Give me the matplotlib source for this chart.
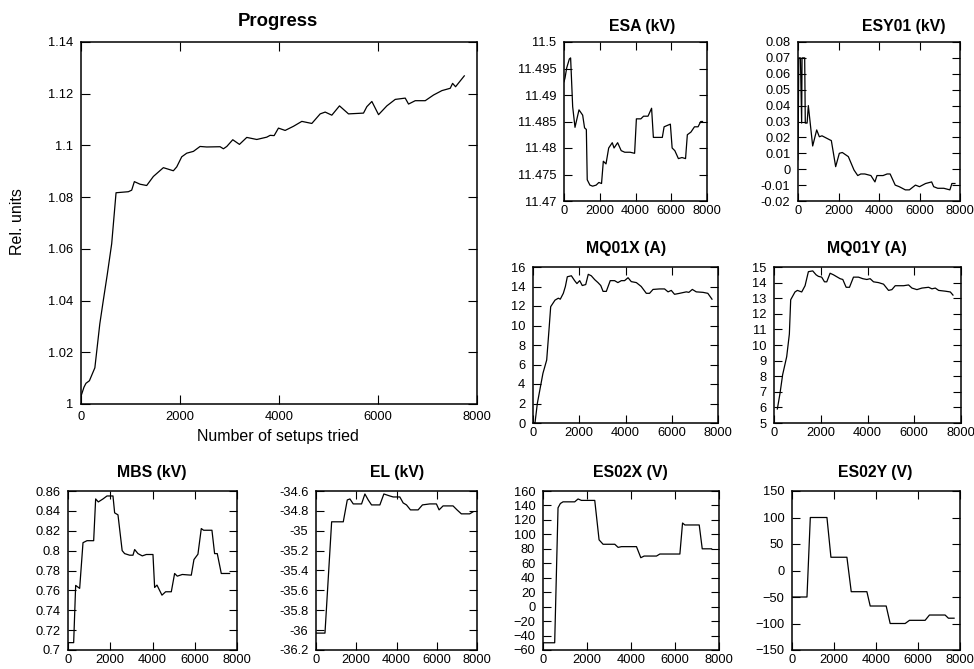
import matplotlib
matplotlib.use("Agg")
import matplotlib.pyplot as plt

plt.rcParams['font.family'] = ['Liberation Sans', 'DejaVu Sans']

# ---------------- data ----------------
prog_x = [0, 60, 100, 170, 280, 380, 450, 530, 620, 708, 957, 1024, 1078, 1193, 1327, 1462, 1664, 1866,
          1934, 2035, 2136, 2271, 2405, 2540, 2810, 2877, 2945, 3066, 3201, 3349, 3551, 3753, 3821, 3902,
          3989, 4124, 4292, 4461, 4663, 4832, 4933, 5067, 5222, 5404, 5707, 5775, 5876, 6011, 6179, 6348,
          6550, 6617, 6752, 6954, 7122, 7291, 7459, 7507, 7567, 7743]
prog_y = [1.003, 1.0065, 1.008, 1.009, 1.014, 1.031, 1.040, 1.050, 1.062, 1.0817, 1.0821, 1.0827, 1.086,
          1.085, 1.0845, 1.088, 1.0914, 1.0902, 1.0917, 1.0956, 1.097, 1.0977, 1.0996, 1.0994, 1.0995,
          1.0987, 1.0996, 1.1022, 1.1004, 1.1031, 1.1023, 1.1032, 1.1039, 1.1038, 1.1067, 1.1058, 1.1074,
          1.1093, 1.1085, 1.1122, 1.1129, 1.1117, 1.1153, 1.1122, 1.1125, 1.1150, 1.1170, 1.1119, 1.1153,
          1.1178, 1.1183, 1.1160, 1.1173, 1.1173, 1.1195, 1.1212, 1.1221, 1.1240, 1.1227, 1.1269]

esa_x = [0, 56, 150, 300, 370, 485, 615, 839, 1044, 1150, 1250, 1300, 1450, 1600, 1800, 1950, 2100,
         2200, 2350, 2500, 2700, 2800, 3000, 3200, 3400, 3700, 3950, 4050, 4300, 4450, 4700, 4900, 5000,
         5500, 5600, 5950, 6050, 6200, 6400, 6600, 6800, 6900, 7100, 7300, 7500, 7650, 7750]
esa_y = [11.4925, 11.4932, 11.4951, 11.4968, 11.4970, 11.4878, 11.4839, 11.4872, 11.4862, 11.4838,
         11.4835, 11.4740, 11.4730, 11.4728, 11.4730, 11.4735, 11.4733, 11.4775, 11.4770,
         11.4800, 11.4810, 11.4800, 11.4810, 11.4795, 11.4792, 11.4792, 11.4790, 11.4855, 11.4855,
         11.4860, 11.4860, 11.4875, 11.4820, 11.4820, 11.4840, 11.4845, 11.4800, 11.4795, 11.4780,
         11.4782, 11.4780, 11.4825, 11.4830, 11.4840, 11.4840, 11.4850, 11.4850]

esy_x = [0, 40, 120, 180, 200, 330, 360, 450, 510, 725, 923, 1054, 1185, 1580, 1646, 1860, 2041, 2189,
         2486, 2765, 2950, 3100, 3300, 3600, 3800, 3900, 4200, 4400, 4550, 4800, 5000, 5300, 5500,
         5800, 6000, 6300, 6600, 6700, 6900, 7200, 7500, 7600, 7750]
esy_y = [0.006, 0.070, 0.070, 0.029, 0.070, 0.070, 0.029, 0.029, 0.040, 0.0146, 0.0247, 0.0204, 0.021,
         0.0184, 0.018, 0.0016, 0.010, 0.0105, 0.0079, -0.0005, -0.004, -0.003, -0.003, -0.004,
         -0.008, -0.004, -0.004, -0.003, -0.003, -0.010, -0.011, -0.013, -0.013, -0.010, -0.011,
         -0.009, -0.008, -0.011, -0.012, -0.012, -0.013, -0.009, -0.009]

mqx_x = [0, 86, 187, 430, 592, 690, 765, 951, 1095, 1180, 1311, 1400, 1484, 1660, 1800, 1900, 2020,
         2130, 2280, 2390, 2520, 2670, 2810, 2930, 3030, 3170, 3340, 3530, 3670, 3820, 3960, 4110, 4250,
         4470, 4680, 4900, 5040, 5190, 5470, 5690, 5840, 5980, 6120, 6340, 6630, 6740, 6890, 7060, 7350,
         7560, 7740]
mqx_y = [0.0, 0.0, 2.0, 5.1, 6.46, 9.5, 11.93, 12.6, 12.8, 12.7, 13.3, 14.0, 15.0, 15.1, 14.6, 14.3,
         14.6, 14.1, 14.2, 15.25, 15.1, 14.7, 14.4, 14.1, 13.5, 13.5, 14.6, 14.6, 14.4, 14.6, 14.6, 14.9,
         14.5, 14.4, 14.0, 13.3, 13.3, 13.7, 13.75, 13.75, 13.45, 13.6, 13.2, 13.3, 13.45, 13.4, 13.7,
         13.45, 13.4, 13.3, 12.7]

mqy_x = [143, 257, 370, 543, 657, 714, 898, 1000, 1186, 1329, 1471, 1657, 1800, 1900, 2040, 2160, 2257,
         2400, 2543, 2714, 2830, 2943, 3086, 3229, 3400, 3614, 3800, 3971, 4114, 4257, 4471, 4686, 4900,
         5043, 5186, 5543, 5757, 5900, 6114, 6329, 6614, 6757, 6900, 7043, 7329, 7543, 7657]
mqy_y = [5.9, 6.9, 8.1, 9.25, 10.7, 12.9, 13.4, 13.5, 13.4, 13.8, 14.7, 14.75, 14.5, 14.4, 14.35, 14.05,
         14.05, 14.6, 14.5, 14.35, 14.25, 14.2, 13.7, 13.7, 14.35, 14.35, 14.25, 14.2, 14.25, 14.05, 14.0,
         13.9, 13.5, 13.55, 13.8, 13.8, 13.85, 13.65, 13.55, 13.65, 13.7, 13.6, 13.65, 13.5, 13.45, 13.4,
         13.2]

mbs_x = [0, 268, 363, 552, 710, 900, 1215, 1309, 1435, 1656, 1845, 2129, 2208, 2366, 2564, 2681, 2918,
         3076, 3155, 3312, 3517, 3706, 4022, 4101, 4212, 4448, 4622, 4890, 5047, 5173, 5410, 5836, 5962,
         6151, 6309, 6419, 6814, 6940, 7066, 7256, 7650]
mbs_y = [0.7074, 0.7074, 0.765, 0.762, 0.808, 0.810, 0.810, 0.852, 0.849, 0.852, 0.855, 0.855, 0.838,
         0.836, 0.800, 0.797, 0.7954, 0.7954, 0.8011, 0.797, 0.7947, 0.7961, 0.7961, 0.7629, 0.7653,
         0.7552, 0.7586, 0.7586, 0.777, 0.7743, 0.776, 0.7753, 0.791, 0.7964, 0.8222, 0.8205, 0.8205,
         0.797, 0.797, 0.777, 0.777]

el_x = [0, 446, 777, 1355, 1554, 1686, 1851, 2264, 2430, 2595, 2760, 3174, 3372, 3669, 3835, 4165, 4331,
        4496, 4694, 5074, 5289, 5653, 5983, 6116, 6314, 6810, 7008, 7223, 7636, 7800]
el_y = [-36.03, -36.03, -34.91, -34.91, -34.69, -34.68, -34.73, -34.73, -34.63, -34.69, -34.74, -34.74,
        -34.63, -34.65, -34.66, -34.66, -34.72, -34.74, -34.79, -34.79, -34.74, -34.73, -34.73, -34.79,
        -34.75, -34.75, -34.79, -34.83, -34.83, -34.81]

es2x_x = [0, 531, 683, 789, 910, 1442, 1593, 1745, 2352, 2549, 2731, 3263, 3414, 3566, 4249, 4446, 4598,
          5159, 5311, 6222, 6343, 6449, 7101, 7238, 7663]
es2x_y = [-50, -50, 136.7, 142.7, 145, 145, 149, 147, 147, 92.4, 86.3, 86.3, 82, 83, 83, 67.7, 70, 70,
          72.8, 72.8, 115.7, 113, 113, 80, 80]

es2y_x = [0, 713, 872, 1664, 1854, 2615, 2821, 3566, 3724, 4485, 4675, 5388, 5594, 6339, 6545, 7290,
          7448, 7718]
es2y_y = [-50, -50, 100, 100, 25, 25, -40, -40, -67, -67, -100, -100, -94, -94, -84, -84, -90, -90]

# ---------------- figure ----------------
W, H = 974, 669
fig = plt.figure(figsize=(W / 100, H / 100), dpi=100)


def px_axes(x0, x1, y0, y1):
    return fig.add_axes([x0 / W, 1 - y1 / H, (x1 - x0) / W, (y1 - y0) / H])


def style(ax, xpad=3):
    ax.tick_params(direction='in', top=True, right=True, length=5.8, width=0.8,
                   labelsize=9.3, colors='black')
    ax.tick_params(axis='y', pad=5.5)
    ax.tick_params(axis='x', pad=xpad)
    for s in ax.spines.values():
        s.set_linewidth(1.1)
    ax.minorticks_off()


def title(x, y, text, size=11.4):
    fig.text(x / W, 1 - y / H, text, ha='center', va='baseline',
             fontsize=size, fontweight='bold')


LW = 0.9
xt = [0, 2000, 4000, 6000, 8000]

# Progress
ax = px_axes(81, 477, 42, 404)
ax.plot(prog_x, prog_y, color='black', lw=LW)
ax.set_xlim(0, 8000)
ax.set_ylim(1.0, 1.14)
ax.set_xticks(xt)
ax.set_yticks([1.0, 1.02, 1.04, 1.06, 1.08, 1.10, 1.12, 1.14])
ax.set_yticklabels(['1', '1.02', '1.04', '1.06', '1.08', '1.1', '1.12', '1.14'])
style(ax, xpad=5)
ax.tick_params(length=6.5)
fig.text(278 / W, 1 - 436 / H, 'Number of setups tried', ha='center', va='center', fontsize=11.5)
fig.text(17 / W, 1 - 222 / H, 'Rel. units', ha='center', va='center', fontsize=11.5, rotation=90)
title(278, 25.7, 'Progress', size=13.3)

# ESA
ax = px_axes(564, 707, 42, 201)
ax.plot(esa_x, esa_y, color='black', lw=LW)
ax.set_xlim(0, 8000)
ax.set_ylim(11.47, 11.5)
ax.set_xticks(xt)
ax.set_yticks([11.47, 11.475, 11.48, 11.485, 11.49, 11.495, 11.5])
ax.set_yticklabels(['11.47', '11.475', '11.48', '11.485', '11.49', '11.495', '11.5'])
style(ax)
title(641.7, 30.5, 'ESA (kV)')

# ESY01
ax = px_axes(798, 960, 42, 201)
ax.plot(esy_x, esy_y, color='black', lw=LW)
ax.set_xlim(0, 8000)
ax.set_ylim(-0.02, 0.08)
ax.set_xticks(xt)
ax.set_yticks([-0.02, -0.01, 0, 0.01, 0.02, 0.03, 0.04, 0.05, 0.06, 0.07, 0.08])
ax.set_yticklabels(['-0.02', '-0.01', '0', '0.01', '0.02', '0.03', '0.04', '0.05', '0.06', '0.07', '0.08'])
style(ax)
title(904, 30.5, 'ESY01 (kV)')

# MQ01X
ax = px_axes(533, 718, 267, 423)
ax.plot(mqx_x, mqx_y, color='black', lw=LW)
ax.set_xlim(0, 8000)
ax.set_ylim(0, 16)
ax.set_xticks(xt)
ax.set_yticks(list(range(0, 17, 2)))
style(ax)
title(626, 252.5, 'MQ01X (A)')

# MQ01Y
ax = px_axes(774, 961, 267, 423)
ax.plot(mqy_x, mqy_y, color='black', lw=LW)
ax.set_xlim(0, 8000)
ax.set_ylim(5, 15)
ax.set_xticks(xt)
ax.set_yticks(list(range(5, 16)))
style(ax)
title(867, 252.5, 'MQ01Y (A)')

# MBS
ax = px_axes(68, 237, 491, 650)
ax.plot(mbs_x, mbs_y, color='black', lw=LW)
ax.set_xlim(0, 8000)
ax.set_ylim(0.7, 0.86)
ax.set_xticks(xt)
ax.set_yticks([0.7, 0.72, 0.74, 0.76, 0.78, 0.8, 0.82, 0.84, 0.86])
ax.set_yticklabels(['0.7', '0.72', '0.74', '0.76', '0.78', '0.8', '0.82', '0.84', '0.86'])
style(ax)
title(152, 476.5, 'MBS (kV)')

# EL
ax = px_axes(316, 477, 491, 650)
ax.plot(el_x, el_y, color='black', lw=LW)
ax.set_xlim(0, 8000)
ax.set_ylim(-36.2, -34.6)
ax.set_xticks(xt)
ax.set_yticks([-36.2, -36.0, -35.8, -35.6, -35.4, -35.2, -35.0, -34.8, -34.6])
ax.set_yticklabels(['-36.2', '-36', '-35.8', '-35.6', '-35.4', '-35.2', '-35', '-34.8', '-34.6'])
style(ax)
title(397.5, 476.5, 'EL (kV)')

# ES02X
ax = px_axes(543, 719, 491, 650)
ax.plot(es2x_x, es2x_y, color='black', lw=LW)
ax.set_xlim(0, 8000)
ax.set_ylim(-60, 160)
ax.set_xticks(xt)
ax.set_yticks(list(range(-60, 161, 20)))
style(ax)
title(630.5, 476.5, 'ES02X (V)')

# ES02Y
ax = px_axes(792, 960, 491, 650)
ax.plot(es2y_x, es2y_y, color='black', lw=LW)
ax.set_xlim(0, 8000)
ax.set_ylim(-150, 150)
ax.set_xticks(xt)
ax.set_yticks(list(range(-150, 151, 50)))
style(ax)
title(875.5, 476.5, 'ES02Y (V)')

fig.savefig('out.png', dpi=100)
